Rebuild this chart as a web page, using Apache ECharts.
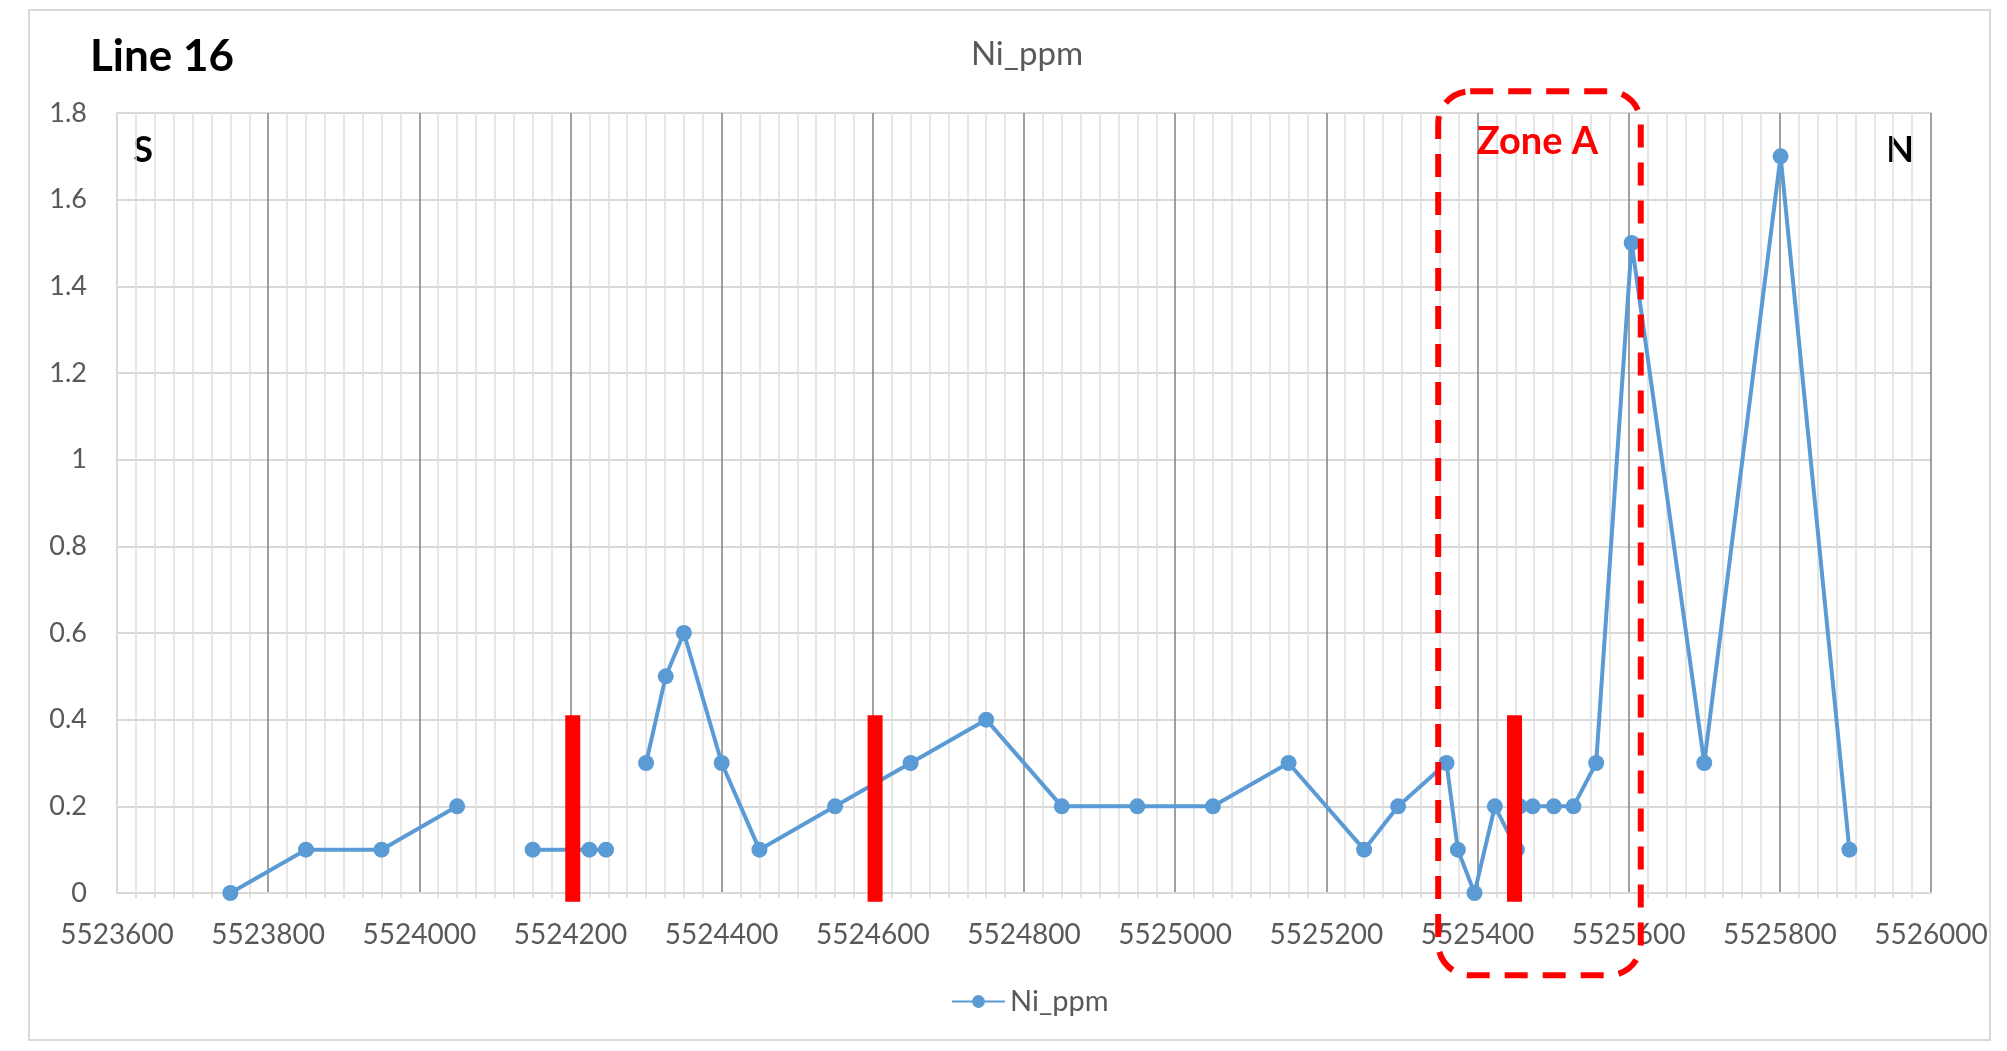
<!DOCTYPE html>
<html>
<head>
<meta charset="utf-8">
<script src="https://cdn.jsdelivr.net/npm/echarts@6/dist/echarts.min.js"></script>
<style>
html,body{margin:0;padding:0;background:#fff;}
#c{width:2007px;height:1051px;}
</style>
</head>
<body>
<div id="c"></div>
<script>
// ---- data ----
var niX = [5523750, 5523850, 5523950, 5524050, 5524150, 5524225, 5524247, 5524300, 5524326, 5524350,
           5524400, 5524450, 5524550, 5524650, 5524750, 5524850, 5524950, 5525050, 5525150, 5525250,
           5525295, 5525359, 5525374, 5525396, 5525423, 5525452, 5525456, 5525473, 5525501, 5525527,
           5525557, 5525604, 5525700, 5525801, 5525892];
var niY = [0, 0.1, 0.1, 0.2, 0.1, 0.1, 0.1, 0.3, 0.5, 0.6,
           0.3, 0.1, 0.2, 0.3, 0.4, 0.2, 0.2, 0.2, 0.3, 0.1,
           0.2, 0.3, 0.1, 0, 0.2, 0.1, 0.2, 0.2, 0.2, 0.2,
           0.3, 1.5, 0.3, 1.7, 0.1];
var gapAfterX = [5524050, 5524247];        // line breaks after these samples
var redBarX = [5524203, 5524603, 5525449]; // red markers
var redBarBottom = -0.02, redBarTop = 0.41;
var zoneAX = [5525348, 5525616];
var zoneAY = [-0.19, 1.85];
var xTickMin = 5523600, xTickMax = 5526000, xTickStep = 200;
var yTickMin = 0, yTickMax = 1.8, yTickStep = 0.2;

var lineData = [];
for (var i = 0; i < niX.length; i++) {
  lineData.push([niX[i], niY[i]]);
  if (gapAfterX.indexOf(niX[i]) >= 0) lineData.push([niX[i] + 1, '-']);
}
var barData = redBarX.map(function (x) { return [x, redBarBottom, redBarTop]; });
var zoneData = [[zoneAX[0], zoneAX[1], zoneAY[0], zoneAY[1]]];

var FONT = 'Lato';
var chart = echarts.init(document.getElementById('c'), null, {renderer: 'canvas'});
chart.setOption({
  animation: false,
  backgroundColor: '#fff',
  textStyle: {fontFamily: FONT},
  title: [
    {text: 'Ni_ppm', left: 1022, top: 33, textAlign: 'center',
     textStyle: {fontFamily: FONT, fontSize: 33, fontWeight: 'normal', color: '#595959'}},
    {text: 'Line 16', left: 85, top: 30,
     textStyle: {fontFamily: FONT, fontSize: 44, fontWeight: 'bold', color: '#000'}}
  ],
  grid: {left: 117, right: 76, top: 113, bottom: 158, containLabel: false},
  legend: {
    data: ['Ni_ppm'], left: 946, top: 982, itemWidth: 53, itemHeight: 16, itemGap: 6,
    textStyle: {fontFamily: FONT, fontSize: 29, color: '#595959'}
  },
  xAxis: {
    type: 'value', min: xTickMin, max: xTickMax, interval: xTickStep,
    axisLine: {show: true, onZero: true, lineStyle: {color: '#d9d9d9', width: 2}},
    axisTick: {show: false},
    axisLabel: {fontFamily: FONT, fontSize: 28, color: '#595959', margin: 28,
                formatter: function (v) { return String(v); }},
    splitLine: {show: true, showMinLine: false, lineStyle: {color: '#808080', width: 1.5}},
    minorTick: {show: true, splitNumber: 8, length: 5, lineStyle: {color: '#d9d9d9', width: 1.5}},
    minorSplitLine: {show: true, lineStyle: {color: '#dedede', width: 1.5}}
  },
  yAxis: {
    type: 'value', min: yTickMin, max: yTickMax, interval: yTickStep,
    axisLine: {show: true, lineStyle: {color: '#d9d9d9', width: 2}},
    axisTick: {show: false},
    axisLabel: {fontFamily: FONT, fontSize: 27, color: '#595959', margin: 30},
    splitLine: {show: true, lineStyle: {color: '#d9d9d9', width: 2}}
  },
  series: [
    {
      name: 'Ni_ppm', type: 'line', data: lineData, connectNulls: false,
      symbol: 'circle', symbolSize: 16, showSymbol: true,
      itemStyle: {color: '#5B9BD5'},
      lineStyle: {color: '#5B9BD5', width: 4},
      z: 3
    },
    {
      name: 'bars', type: 'custom', data: barData, clip: false, z: 5,
      encode: {x: 0, y: [1, 2]},
      renderItem: function (params, api) {
        var top = api.coord([api.value(0), api.value(2)]);
        var bot = api.coord([api.value(0), api.value(1)]);
        return {type: 'rect', shape: {x: top[0] - 7.5, y: top[1], width: 15, height: bot[1] - top[1]},
                style: {fill: '#ff0000'}};
      }
    },
    {
      name: 'zone', type: 'custom', data: zoneData, clip: false, z: 6,
      encode: {x: [0, 1], y: [2, 3]},
      renderItem: function (params, api) {
        var p0 = api.coord([api.value(0), api.value(3)]);
        var p1 = api.coord([api.value(1), api.value(2)]);
        return {
          type: 'group',
          children: [
            {type: 'rect', shape: {x: p0[0], y: p0[1], width: p1[0] - p0[0], height: p1[1] - p0[1], r: 32},
             style: {fill: 'none', stroke: '#ff0000', lineWidth: 6, lineDash: [23, 15]}},
            {type: 'text', x: (p0[0] + p1[0]) / 2 - 2, y: p0[1] + 50,
             style: {text: 'Zone A', fill: '#ff0000', font: 'bold 38px ' + FONT, align: 'center', verticalAlign: 'middle'}}
          ]
        };
      }
    }
  ],
  graphic: [
    {type: 'rect', shape: {x: 29, y: 10, width: 1961, height: 1030},
     style: {fill: 'none', stroke: '#d9d9d9', lineWidth: 2}, z: -10, silent: true},
    {type: 'text', x: 143, y: 150, style: {text: 'S', fill: '#000', font: 'bold 36px ' + FONT, align: 'center', verticalAlign: 'middle'}},
    {type: 'text', x: 1900, y: 150, style: {text: 'N', fill: '#000', font: 'bold 36px ' + FONT, align: 'center', verticalAlign: 'middle'}}
  ]
});
</script>
</body>
</html>
